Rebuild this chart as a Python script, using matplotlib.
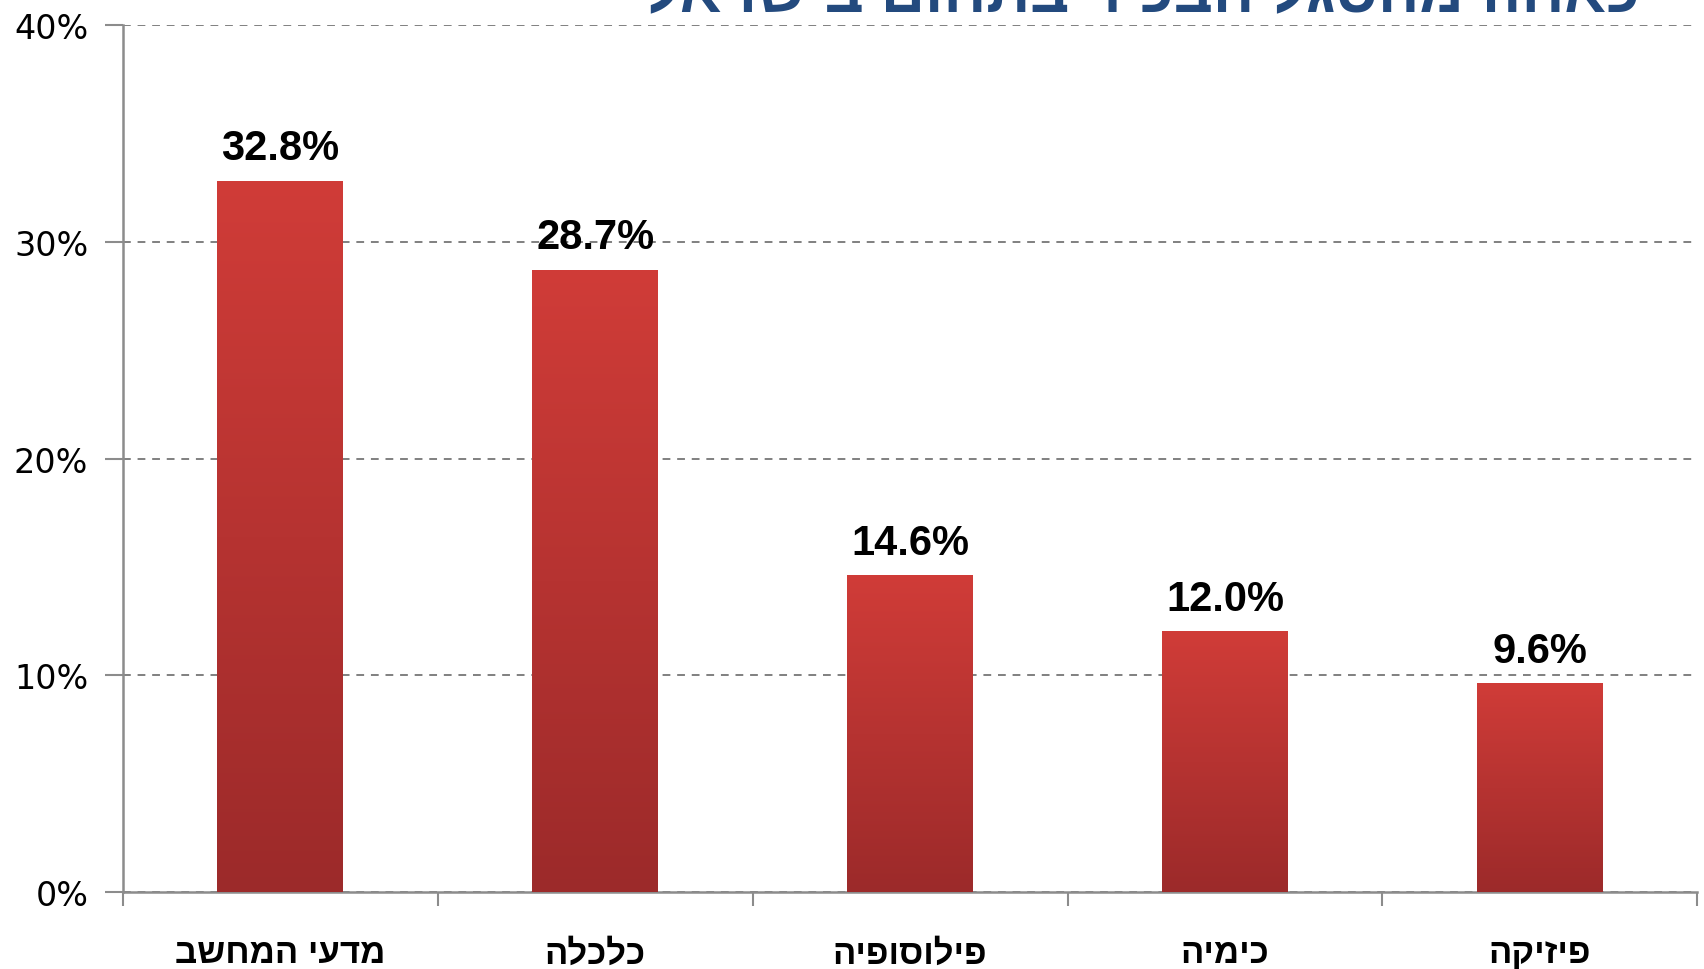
import numpy as np
import matplotlib
matplotlib.use("Agg")
import matplotlib.pyplot as plt
from matplotlib.colors import LinearSegmentedColormap

# data
categories = ["מדעי המחשב", "כלכלה", "פילוסופיה", "כימיה", "פיזיקה"]
values = [32.8, 28.7, 14.6, 12.0, 9.6]
yticks = [0, 10, 20, 30, 40]
title = "כאחוז מהסגל הבכיר בתחום בישראל"


def rtl(s):
    # matplotlib has no bidi support, so flip Hebrew strings by hand
    return s[::-1]


fig = plt.figure(figsize=(17.04, 9.70), dpi=100)
ax = fig.add_axes([0.0722, 0.0794, 0.9238, 0.8936])

x = np.arange(len(categories))
bars = ax.bar(x, values, width=0.4, color="#B83432", zorder=3)

# vertical red gradient on each bar
cmap = LinearSegmentedColormap.from_list("redgrad", ["#9C2A2A", "#D03C38"])
grad = np.linspace(0, 1, 256).reshape(-1, 1)
for b in bars:
    x0, w, h = b.get_x(), b.get_width(), b.get_height()
    ax.imshow(grad, cmap=cmap, origin="lower", aspect="auto",
              extent=[x0, x0 + w, 0, h], zorder=3.5, interpolation="bicubic")
    ax.text(x0 + w / 2, h + 0.6, f"{h:.1f}%", ha="center", va="bottom",
            fontsize=30, fontweight="bold", family="Liberation Sans", zorder=5)

ax.set_xlim(-0.5, len(categories) - 0.5)
ax.set_ylim(0, 40)

# y axis
ax.set_yticks(yticks)
ax.set_yticklabels([f"{t}%" for t in yticks], fontsize=24, family="DejaVu Sans")
ax.tick_params(axis="y", length=13, width=1.5, color="#8c8c8c", pad=12)
ax.yaxis.grid(True, linestyle=(0, (4, 3.5)), color="#808080", linewidth=1.4, zorder=0)

# x axis: ticks at category boundaries, labels under the bars
ax.set_xticks(np.arange(len(categories) + 1) - 0.5)
ax.set_xticklabels([])
ax.set_xticks(x, minor=True)
ax.set_xticklabels([rtl(c) for c in categories], minor=True,
                   fontsize=25, fontweight="bold", family="Liberation Sans")
ax.tick_params(axis="x", which="major", length=10, width=1.5, color="#8c8c8c")
ax.tick_params(axis="x", which="minor", length=0, pad=32)

for side in ["top", "right"]:
    ax.spines[side].set_visible(False)
for side in ["left", "bottom"]:
    ax.spines[side].set_color("#8c8c8c")
    ax.spines[side].set_linewidth(1.8)

# title sits mostly above the canvas, as in the cropped reference
fig.text(1640 / 1704, 1 - 12 / 970, rtl(title), ha="right", va="baseline",
         fontsize=44, fontweight="bold", color="#234A7E", family="Liberation Sans")

fig.savefig("out.png", dpi=100, facecolor="white")
